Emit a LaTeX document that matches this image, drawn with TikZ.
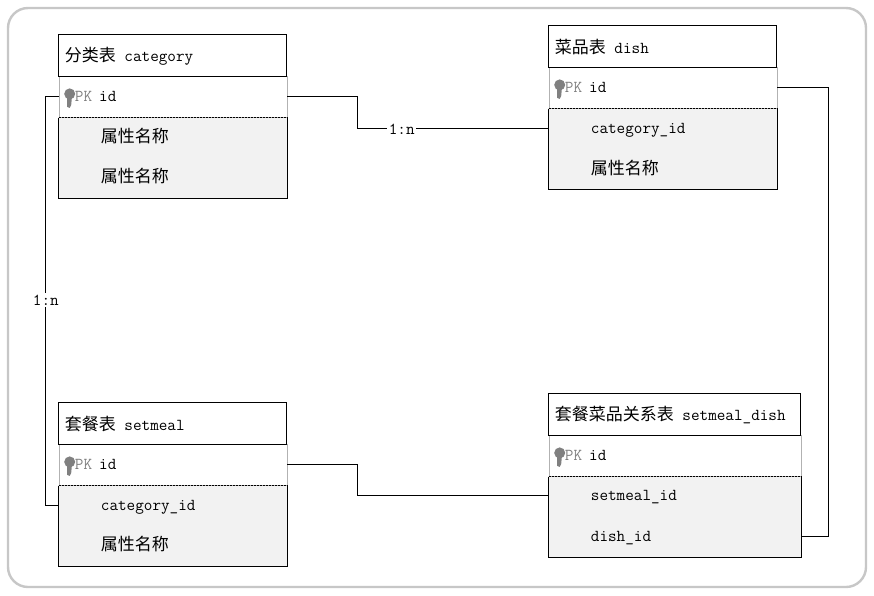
\documentclass[tikz,border=0pt]{standalone}
\usepackage{fontspec}
\newfontfamily\cjk{Noto Sans CJK SC}
\newcommand{\zh}[1]{{\cjk\fontsize{17}{20}\selectfont #1}\hspace{3pt}}
\newcommand{\attr}[1]{\hspace*{21pt}\raisebox{-4.5pt}[0pt][0pt]{#1}}
\newcommand{\pkid}{\hspace*{8pt}{\color{gray}PK} \hspace{1.5pt}id}
\tikzset{
	headbox/.style = {draw = black, line width = 1pt, fill = white, minimum height = 42pt, text width = #1 - 12pt, inner xsep = 6pt, inner ysep = 0pt, align = left},
	pkbox/.style = {draw = gray!60, fill = white, minimum height = 41pt, text width = #1 - 16pt, inner xsep = 8pt, inner ysep = 0pt, align = left},
	bodybox/.style = {fill = black!5, minimum height = 80pt, minimum width = #1, inner sep = 0pt},
	rowbox/.style = {minimum height = 40pt, text width = #1 - 42pt, inner xsep = 21pt, inner ysep = 0pt, align = left},
	link/.style = {draw = black, line width = 1pt},
	linklabel/.style = {fill = white, inner sep = 1.5pt}
}
\begin{document}
\begin{tikzpicture}[x = 1pt, y = -1pt, font = \ttfamily\fontsize{16.7}{19}\selectfont]
	\useasboundingbox (0,0) rectangle (874,596);
	\draw [draw = black!22, line width = 2.4pt, fill = white, rounded corners = 20pt] (8,8) rectangle (866,587);

	\begin{scope} [shift = {(-0.6, -0.6)}]
	% category
	\node [bodybox = 228pt] (categoryBody) at (173.5, 158.5) {};
	\node [pkbox = 228pt] (categoryPk) at (173.5, 97.5) {\pkid};
	\node [headbox = 228pt] (categoryHead) at (173.5, 56.5) {\zh{分类表} category};
	\node [rowbox = 228pt] (categoryRowA) at (173.5, 136.5) {\hspace*{21pt}\zh{属性名称}};
	\node [rowbox = 228pt] (categoryRowB) at (173.5, 176.5) {\hspace*{21pt}\zh{属性名称}};

	% dish
	\node [bodybox = 228pt] (dishBody) at (663.5, 149.5) {};
	\node [pkbox = 228pt] (dishPk) at (663.5, 88.5) {\pkid};
	\node [headbox = 228pt] (dishHead) at (663.5, 47.5) {\zh{菜品表} dish};
	\node [rowbox = 228pt] (dishRowA) at (663.5, 129.5) {\attr{category\_id}};
	\node [rowbox = 228pt] (dishRowB) at (663.5, 168.5) {\hspace*{21pt}\zh{属性名称}};

	% setmeal
	\node [bodybox = 228pt] (setmealBody) at (173.5, 526.5) {};
	\node [pkbox = 228pt] (setmealPk) at (173.5, 465.5) {\pkid};
	\node [headbox = 228pt] (setmealHead) at (173.5, 424.5) {\zh{套餐表} setmeal};
	\node [rowbox = 228pt] (setmealRowA) at (173.5, 506.5) {\attr{category\_id}};
	\node [rowbox = 228pt] (setmealRowB) at (173.5, 544.5) {\hspace*{21pt}\zh{属性名称}};

	% setmeal_dish
	\node [bodybox = 252pt] (relationBody) at (675.5, 517.5) {};
	\node [pkbox = 252pt] (relationPk) at (675.5, 456.5) {\pkid};
	\node [headbox = 252pt] (relationHead) at (675.5, 415.5) {\zh{套餐菜品关系表} setmeal\_dish};
	\node [rowbox = 252pt] (relationRowA) at (675.5, 496.5) {\attr{setmeal\_id}};
	\node [rowbox = 252pt] (relationRowB) at (675.5, 537.5) {\attr{dish\_id}};

	\foreach \tbl in {category, dish, setmeal, relation} {
		\draw [link] (\tbl Body.north west) -- (\tbl Body.south west) -- (\tbl Body.south east) -- (\tbl Body.north east);
		\draw [black, line width = 1pt, dash pattern = on 2pt off 1pt] (\tbl Body.north west) -- (\tbl Body.north east);
		% key icon
		\fill [gray] ([shift = {(11, -3)}] \tbl Pk.west) circle (5.5pt);
		\fill [gray] ([shift = {(8.5, -3)}] \tbl Pk.west) -- ([shift = {(13.5, -3)}] \tbl Pk.west) -- ([shift = {(12.5, 8)}] \tbl Pk.west) -- ([shift = {(11, 11)}] \tbl Pk.west) -- ([shift = {(8.5, 10)}] \tbl Pk.west) -- cycle;
	}

	\coordinate (bendA) at (358.5, 97.5);
	\coordinate (bendB) at (358.5, 129.5);
	\coordinate (bendC) at (46.5, 97.5);
	\coordinate (bendD) at (46.5, 506.5);
	\coordinate (bendE) at (358.5, 465.5);
	\coordinate (bendF) at (358.5, 496.5);
	\coordinate (bendG) at (829.5, 88.5);
	\coordinate (bendH) at (829.5, 537.5);

	\draw [link] (categoryPk.east) -- (bendA) -- (bendB) -- node [linklabel, pos = 0.23] (labelDish) {1:n} (dishRowA.west);
	\draw [link] (categoryPk.west) -- (bendC) -- node [linklabel, pos = 0.497] (labelSetmeal) {1:n} (bendD) -- (setmealRowA.west);
	\draw [link] (setmealPk.east) -- (bendE) -- (bendF) -- (relationRowA.west);
	\draw [link] (dishPk.east) -- (bendG) -- (bendH) -- (relationRowB.east);
	\end{scope}
\end{tikzpicture}
\end{document}
